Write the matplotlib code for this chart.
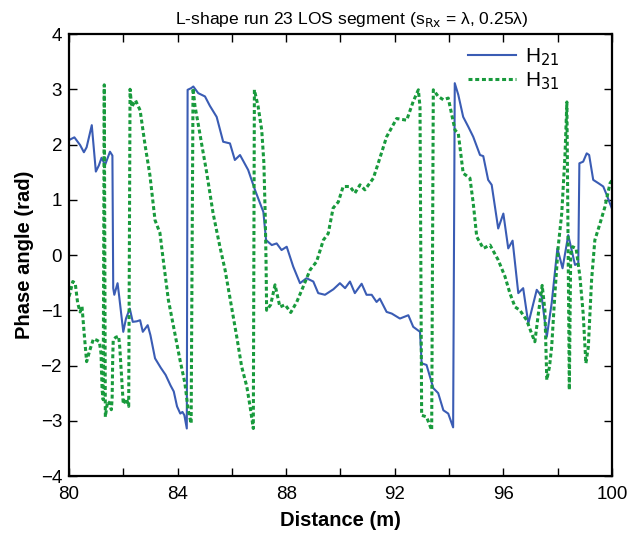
import matplotlib
matplotlib.use("Agg")
import matplotlib.pyplot as plt

plt.rcParams['font.family'] = ['Liberation Sans', 'DejaVu Sans']

# Phase of H21 (solid) versus distance
h21_x = [80.0, 80.2, 80.41, 80.55, 80.65, 80.84, 80.99, 81.10, 81.20, 81.33, 81.51, 81.60,
         81.63, 81.67, 81.79, 81.85, 82.0, 82.1, 82.24, 82.35, 82.5, 82.62, 82.72, 82.9,
         83.0, 83.17, 83.38, 83.56, 83.74, 83.86, 83.98, 84.1, 84.18, 84.25, 84.34,
         84.37, 84.5, 84.58, 84.76, 85.01, 85.19, 85.44, 85.68, 85.93, 86.11, 86.30,
         86.60, 86.85, 87.16, 87.26, 87.47, 87.65, 87.83, 88.02, 88.26, 88.51, 88.75,
         89.0, 89.18, 89.43, 89.74, 89.98, 90.17, 90.35, 90.53, 90.78, 90.96, 91.15,
         91.33, 91.45, 91.70, 91.89, 92.19, 92.50, 92.68, 92.93, 92.99, 93.17, 93.42,
         93.60, 93.79, 93.97, 94.15, 94.21, 94.34, 94.52, 94.71, 94.89, 95.14, 95.26,
         95.44, 95.57, 95.81, 96.0, 96.18, 96.34, 96.55, 96.73, 96.92, 97.23, 97.41,
         97.60, 97.78, 97.99, 98.18, 98.39, 98.64, 98.76, 98.80, 98.94, 99.07, 99.16,
         99.31, 99.50, 99.68, 99.78, 100.0]
h21_y = [2.08, 2.13, 1.99, 1.86, 1.95, 2.35, 1.51, 1.62, 1.76, 1.63, 1.87, 1.80,
         -0.60, -0.72, -0.51, -0.75, -1.39, -1.15, -0.97, -1.21, -1.20, -1.18, -1.39, -1.27,
         -1.45, -1.87, -2.04, -2.17, -2.36, -2.47, -2.74, -2.87, -2.84, -2.90, -3.14,
         2.99, 3.02, 3.05, 2.93, 2.87, 2.70, 2.50, 2.05, 2.02, 1.72, 1.81,
         1.54, 1.18, 0.78, 0.27, 0.18, 0.21, 0.09, 0.15, -0.21, -0.51, -0.42,
         -0.48, -0.69, -0.72, -0.62, -0.51, -0.60, -0.48, -0.69, -0.52, -0.72, -0.72,
         -0.85, -0.79, -1.03, -1.06, -1.15, -1.09, -1.30, -1.39, -1.96, -1.99, -2.41,
         -2.50, -2.81, -2.87, -3.12, 3.11, 2.90, 2.50, 2.32, 2.14, 1.81, 1.79,
         1.36, 1.27, 0.48, 0.75, 0.12, 0.26, -0.69, -0.60, -1.24, -0.63, -0.75,
         -1.48, -0.87, 0.12, -0.24, 0.36, -0.18, -0.15, 1.66, 1.69, 1.84, 1.81,
         1.36, 1.30, 1.24, 1.12, 0.84]

# Phase of H31 (dashed) versus distance
h31_x = [80.0, 80.04, 80.14, 80.23, 80.32, 80.41, 80.48, 80.56, 80.65, 80.77, 80.90, 81.02,
         81.12, 81.18, 81.22, 81.26, 81.30, 81.34, 81.42, 81.50, 81.56, 81.59, 81.61,
         81.63, 81.72, 81.83, 81.87, 81.93, 82.0, 82.12, 82.20, 82.25, 82.31, 82.45,
         82.62, 82.80, 82.98, 83.17, 83.35, 83.45, 83.66, 83.90, 84.09, 84.27, 84.39,
         84.50, 84.57, 84.64, 84.75, 84.89, 85.07, 85.31, 85.56, 85.75, 85.99, 86.18,
         86.36, 86.55, 86.67, 86.79, 86.83, 86.97, 87.10, 87.18, 87.23, 87.26, 87.28,
         87.43, 87.59, 87.77, 87.96, 88.17, 88.39, 88.63, 88.88, 89.12, 89.37, 89.55,
         89.73, 89.92, 90.10, 90.35, 90.53, 90.72, 90.90, 91.21, 91.39, 91.70, 92.07,
         92.44, 92.68, 92.87, 92.93, 92.99, 93.17, 93.36, 93.42, 93.60, 93.79, 93.97,
         94.22, 94.34, 94.52, 94.77, 94.89, 95.02, 95.26, 95.51, 95.81, 96.06, 96.24,
         96.43, 96.61, 96.86, 97.04, 97.16, 97.29, 97.43, 97.53, 97.60, 97.70, 97.78,
         97.90, 98.02, 98.15, 98.27, 98.34, 98.43, 98.48, 98.55, 98.68, 98.82, 98.94,
         99.04, 99.13, 99.25, 99.37, 99.56, 99.74, 99.93, 100.0]
h31_y = [-0.75, -0.69, -0.48, -0.51, -0.87, -1.03, -0.93, -1.42, -1.93, -1.72, -1.52, -1.54,
         -1.57, -1.78, -2.44, -2.62, 3.08, -2.93, -2.65, -2.68, -2.80, -2.60, -1.90,
         -1.54, -1.49, -1.47, -1.66, -2.14, -2.70, -2.60, -2.74, 3.00, 2.68, 2.80,
         2.62, 2.00, 1.45, 0.63, 0.40, 0.00, -0.81, -1.42, -1.90, -2.32, -2.80,
         -3.05, 3.02, 2.70, 2.40, 2.00, 1.50, 0.75, 0.15, -0.27, -0.94, -1.48,
         -2.02, -2.38, -2.74, -3.14, 2.99, 2.68, 2.26, 1.66, 0.69, -0.15, -1.00,
         -0.90, -0.54, -0.94, -0.90, -1.04, -0.85, -0.57, -0.27, -0.12, 0.27, 0.39,
         0.85, 0.96, 1.24, 1.24, 1.12, 1.27, 1.18, 1.39, 1.66, 2.14, 2.47,
         2.44, 2.78, 2.99, 2.68, -2.90, -2.93, -3.17, 2.99, 2.87, 2.81, 2.84,
         2.26, 2.20, 1.48, 1.39, 0.94, 0.33, 0.12, 0.18, -0.09, -0.39, -0.69,
         -0.94, -1.00, -1.18, -1.42, -1.57, -1.06, -0.55, -1.00, -2.26, -2.02, -1.66,
         -0.69, 0.15, 0.75, 1.80, 2.77, -2.44, 0.00, 0.15, 0.12, -0.39, -1.06,
         -1.96, -1.66, -0.45, 0.27, 0.57, 0.87, 1.30, 1.35]

x_ticks = list(range(80, 101, 2))
x_tick_labels = [str(t) if t % 4 == 0 else '' for t in x_ticks]
y_ticks = list(range(-4, 5))
y_tick_labels = [('\u2212' + str(-t)) if t < 0 else str(t) for t in y_ticks]

fig = plt.figure(figsize=(6.27, 5.34), dpi=100)
ax = fig.add_axes([0.110, 0.1086, 0.866, 0.8277])

ax.plot(h21_x, h21_y, color='#3a5cb4', lw=1.5, label='H$_{21}$')
ax.plot(h31_x, h31_y, color='#189a3c', lw=2.2, dashes=(1.3, 0.9), label='H$_{31}$')

ax.set_xlim(80, 100)
ax.set_ylim(-4, 4)
ax.set_xticks(x_ticks)
ax.set_xticklabels(x_tick_labels)
ax.set_yticks(y_ticks)
ax.set_yticklabels(y_tick_labels)
ax.tick_params(direction='in', length=6, width=1.0, top=True, right=True,
               labelsize=13.5, pad=5)
ax.tick_params(axis='x', pad=7)
for s in ax.spines.values():
    s.set_linewidth(1.6)

ax.set_xlabel('Distance (m)', fontsize=14.5, fontweight='bold', labelpad=6)
ax.set_ylabel('Phase angle (rad)', fontsize=14.5, fontweight='bold', labelpad=5)
ax.set_title('L-shape run 23 LOS segment (s$_{\\mathrm{Rx}}$ = \u03bb, 0.25\u03bb)',
             fontsize=12.6, pad=7, x=0.52)

leg = ax.legend(loc='upper left', bbox_to_anchor=(0.735, 0.972), frameon=False,
                fontsize=15, handlelength=2.3, borderaxespad=0, borderpad=0,
                labelspacing=0.12, handletextpad=0.45)

fig.savefig('out.png', dpi=100)
